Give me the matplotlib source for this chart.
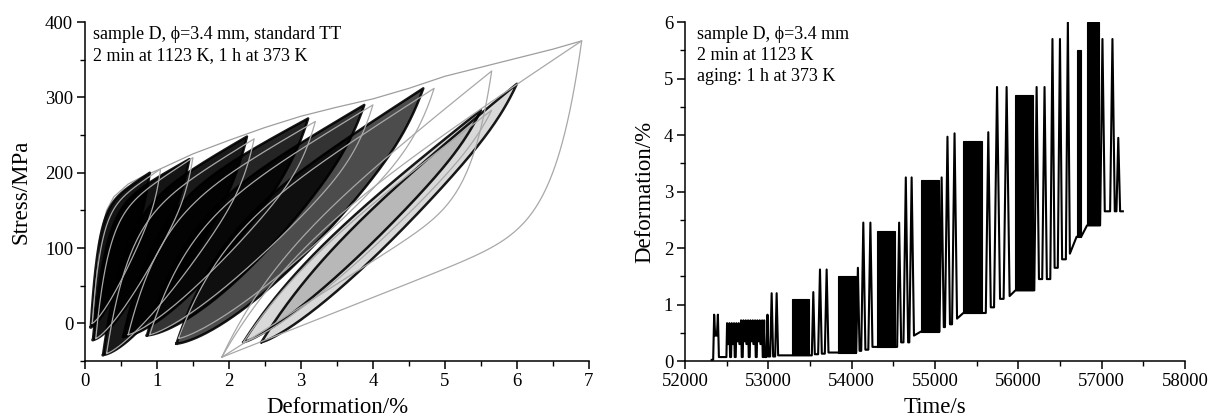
import numpy as np
import matplotlib
import matplotlib.pyplot as plt
from matplotlib.ticker import MultipleLocator

matplotlib.use('agg')

# ---------------- left panel: stress-strain hysteresis loops ----------------
# dark bands (many cycles on top of each other): bottom point, top point
band_x_min = [0.08, 0.11, 0.25, 0.53, 0.86, 1.27, 2.20, 2.45]
band_y_min = [-5, -22, -42, -18, -16, -27, -25, -25]
band_x_max = [0.90, 1.45, 2.25, 3.10, 3.88, 4.70, 5.50, 6.00]
band_y_max = [200, 218, 248, 272, 290, 312, 283, 318]
# loading branch: share of the steep initial rise and its sharpness
band_jump = [0.75, 0.70, 0.62, 0.55, 0.45, 0.38, 0.20, 0.20]
band_k = [8, 8, 7, 6, 6, 6, 4, 4]
# unloading branch: share of the gradual part and its curvature
band_lin = [0.9, 0.9, 0.9, 0.9, 0.9, 0.9, 0.93, 0.93]
band_p = [1.5, 1.5, 1.5, 1.5, 1.5, 1.45, 1.27, 1.27]
band_fill = [0.92, 0.92, 0.9, 0.86, 0.8, 0.7, 0.15, 0.15]

# grey loops (single recorded cycles)
grey_x_min = [0.10, 0.15, 0.30, 0.60, 0.90, 1.30, 1.90, 2.20, 1.90]
grey_y_min = [0, -20, -40, -15, -15, -20, -45, -25, -45]
grey_x_max = [1.05, 1.50, 2.35, 3.20, 4.00, 4.85, 5.65, 5.65, 6.90]
grey_y_max = [205, 220, 245, 268, 290, 312, 335, 283, 375]
grey_jump = [0.70, 0.65, 0.58, 0.50, 0.42, 0.35, 0.25, 0.20, 0.25]
grey_k = [8, 8, 7, 6, 6, 6, 5, 4, 5]
grey_lin = [0.85, 0.85, 0.85, 0.85, 0.85, 0.85, 0.6, 0.93, 0.45]
grey_p = [1.3, 1.3, 1.3, 1.3, 1.3, 1.3, 1.0, 1.27, 1.0]

# first loading curve (outer grey envelope)
env_strain = [0.10, 0.15, 0.20, 0.30, 0.40, 0.60, 0.80, 1.00, 1.50, 2.00, 2.50,
              3.00, 3.50, 4.00, 4.50, 5.00, 5.50, 6.00, 6.50, 6.90]
env_stress = [0, 60, 110, 150, 168, 185, 195, 203, 225, 243, 260,
              275, 287, 298, 312, 328, 340, 352, 364, 375]

# ---------------- right panel: deformation vs time ----------------
# single cycles: time of the peak, peak value, level after the cycle, half width
spike_time = [52350, 52395,
              52505, 52533, 52561, 52589, 52617, 52645, 52673, 52701, 52729,
              52757, 52785, 52813, 52841, 52869, 52897, 52925, 52950,
              52990, 53040, 53100,
              53540, 53620, 53700,
              54075, 54140, 54225,
              54570, 54650, 54720,
              55080, 55150, 55235,
              55640, 55745, 55860,
              56220, 56315,
              56410, 56500, 56595,
              57010, 57130, 57200]
spike_top = [0.82, 0.82,
             0.67, 0.67, 0.67, 0.67, 0.67, 0.67, 0.72, 0.72, 0.72,
             0.72, 0.72, 0.72, 0.72, 0.72, 0.72, 0.72, 0.72,
             0.82, 1.20, 1.20,
             1.22, 1.62, 1.62,
             1.65, 2.45, 2.45,
             2.45, 3.25, 3.25,
             3.25, 3.97, 4.03,
             4.05, 4.85, 4.85,
             4.85, 4.85,
             5.70, 5.70, 6.00,
             5.70, 5.70, 3.95]
spike_base = [0.45, 0.07,
              0.30, 0.07, 0.30, 0.07, 0.35, 0.30, 0.07, 0.35, 0.30,
              0.07, 0.35, 0.30, 0.07, 0.35, 0.30, 0.07, 0.07,
              0.08, 0.08, 0.10,
              0.12, 0.13, 0.15,
              0.18, 0.20, 0.25,
              0.33, 0.33, 0.45,
              0.60, 0.65, 0.75,
              0.95, 1.10, 1.15,
              1.45, 1.45,
              1.65, 1.80, 1.90,
              2.65, 2.65, 2.65]
spike_hw = [12, 12,
            8, 8, 8, 8, 8, 8, 8, 8, 8,
            8, 8, 8, 8, 8, 8, 8, 8,
            12, 18, 18,
            18, 22, 22,
            20, 25, 25,
            24, 28, 28,
            26, 30, 30,
            30, 36, 36,
            28, 28,
            26, 26, 24,
            28, 28, 22]

# blocks of many fast cycles (appear solid)
block_start = [53280, 53840, 54300, 54830, 55340, 55965, 56700, 56825]
block_end = [53490, 54050, 54520, 55050, 55560, 56180, 56755, 56965]
block_low = [0.10, 0.15, 0.25, 0.52, 0.85, 1.25, 2.20, 2.40]
block_high = [1.10, 1.50, 2.30, 3.20, 3.90, 4.70, 5.50, 6.00]

trace_start = (52320, 0.02)
trace_end = (57255, 2.65)

# ---------------------------------------------------------------
plt.rcParams['font.family'] = ['Liberation Serif', 'DejaVu Serif']
plt.rcParams['axes.linewidth'] = 1.1
plt.rcParams['xtick.major.width'] = 1.1
plt.rcParams['ytick.major.width'] = 1.1
plt.rcParams['xtick.minor.width'] = 1.0
plt.rcParams['ytick.minor.width'] = 1.0
plt.rcParams['xtick.major.size'] = 5.5
plt.rcParams['ytick.major.size'] = 5.5
plt.rcParams['xtick.minor.size'] = 3.5
plt.rcParams['ytick.minor.size'] = 3.5

fig = plt.figure(figsize=(12.32, 4.19), dpi=100)
ax1 = fig.add_axes([0.069, 0.1384, 0.409, 0.809])
ax2 = fig.add_axes([0.556, 0.1384, 0.4058, 0.809])


def loop_xy(x0, y0, x1, y1, jump, k, lin, p):
    # loading branch: steep initial rise then nearly straight
    t = np.linspace(0, 1, 150)
    xu = x0 + (x1 - x0) * t
    gu = jump * (1 - np.exp(-k * t)) / (1 - np.exp(-k)) + (1 - jump) * t
    yu = y0 + (y1 - y0) * gu
    # unloading branch: sharp drop at the tip then gradual
    tl = t[::-1]
    xl = x0 + (x1 - x0) * tl
    gl = lin * tl ** p + (1 - lin) * tl ** 14
    yl = y0 + (y1 - y0) * gl
    return np.concatenate([xu, xl]), np.concatenate([yu, yl])


ax1.plot(env_strain, env_stress, color='0.62', lw=0.9)

for i in range(len(band_x_min)):
    bx, by = loop_xy(band_x_min[i], band_y_min[i], band_x_max[i], band_y_max[i],
                     band_jump[i], band_k[i], band_lin[i], band_p[i])
    ax1.fill(bx, by, color='black', alpha=band_fill[i], lw=0)
    ax1.plot(bx, by, color='black', lw=1.8, alpha=0.9)

# grey cycles lie on top, they show as light streaks through the dark bands
for i in range(len(grey_x_min)):
    gx, gy = loop_xy(grey_x_min[i], grey_y_min[i], grey_x_max[i], grey_y_max[i],
                     grey_jump[i], grey_k[i], grey_lin[i], grey_p[i])
    ax1.plot(gx, gy, color='0.66', lw=0.9)

ax1.set_xlim(0, 7)
ax1.set_ylim(-50, 400)
ax1.xaxis.set_major_locator(MultipleLocator(1))
ax1.xaxis.set_minor_locator(MultipleLocator(0.5))
ax1.yaxis.set_major_locator(MultipleLocator(100))
ax1.yaxis.set_minor_locator(MultipleLocator(50))
ax1.set_xlabel('Deformation/%', fontsize=16.5, labelpad=5)
ax1.set_ylabel('Stress/MPa', fontsize=16.5, labelpad=10)
ax1.text(0.016, 0.962, 'sample D, ϕ=3.4 mm, standard TT', transform=ax1.transAxes,
         fontsize=13, va='center')
ax1.text(0.016, 0.900, '2 min at 1123 K, 1 h at 373 K', transform=ax1.transAxes,
         fontsize=13, va='center')

# build the time trace from the cycle lists
events = []
for i in range(len(spike_time)):
    events.append((spike_time[i] - spike_hw[i], 'spike', i))
for j in range(len(block_start)):
    events.append((block_start[j], 'block', j))
events.sort()

tt = [trace_start[0]]
dd = [trace_start[1]]
level = trace_start[1]
for t0, kind, i in events:
    if kind == 'spike':
        tt += [spike_time[i] - spike_hw[i], spike_time[i], spike_time[i] + spike_hw[i]]
        dd += [level, spike_top[i], spike_base[i]]
        level = spike_base[i]
    else:
        tt += [block_start[i], block_end[i]]
        dd += [block_low[i], block_low[i]]
        level = block_low[i]
tt.append(trace_end[0])
dd.append(trace_end[1])

ax2.plot(tt, dd, color='black', lw=1.5, solid_joinstyle='round')
ax2.bar(block_start, np.array(block_high) - np.array(block_low),
        width=np.array(block_end) - np.array(block_start), bottom=block_low,
        align='edge', color='black', edgecolor='black', lw=0.8)

ax2.set_xlim(52000, 58000)
ax2.set_ylim(0, 6)
ax2.xaxis.set_major_locator(MultipleLocator(1000))
ax2.xaxis.set_minor_locator(MultipleLocator(500))
ax2.yaxis.set_major_locator(MultipleLocator(1))
ax2.yaxis.set_minor_locator(MultipleLocator(0.5))
ax2.set_xlabel('Time/s', fontsize=16.5, labelpad=5)
ax2.set_ylabel('Deformation/%', fontsize=16.5, labelpad=6)
ax2.text(0.024, 0.962, 'sample D, ϕ=3.4 mm', transform=ax2.transAxes,
         fontsize=13, va='center')
ax2.text(0.024, 0.900, '2 min at 1123 K', transform=ax2.transAxes,
         fontsize=13, va='center')
ax2.text(0.024, 0.838, 'aging: 1 h at 373 K', transform=ax2.transAxes,
         fontsize=13, va='center')

for ax in (ax1, ax2):
    ax.spines['top'].set_visible(False)
    ax.spines['right'].set_visible(False)
    ax.tick_params(which='both', direction='out', labelsize=13.5, pad=3)

plt.savefig('out.png', dpi=100)
